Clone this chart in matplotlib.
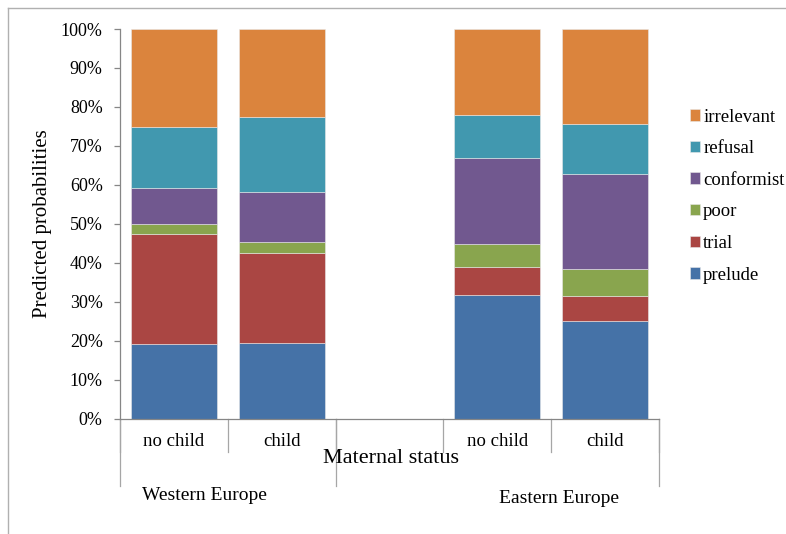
import numpy as np
import matplotlib
matplotlib.use("Agg")
import matplotlib.pyplot as plt
from matplotlib.lines import Line2D
from matplotlib.ticker import PercentFormatter

# values (percent)
maternal = ["no child", "child", "", "no child", "child"]
regions = ["Western Europe", "Eastern Europe"]
categories = ["prelude", "trial", "poor", "conformist", "refusal", "irrelevant"]
prelude = [19.2, 19.4, 0, 31.7, 25.1]
trial = [28.3, 23.2, 0, 7.3, 6.5]
poor = [2.5, 2.7, 0, 5.8, 6.9]
conformist = [9.1, 13.0, 0, 22.1, 24.4]
refusal = [15.7, 19.0, 0, 11.0, 12.7]
irrelevant = [25.2, 22.7, 0, 22.1, 24.4]
colors = ["#4572A7", "#AA4643", "#89A54E", "#71588F", "#4198AF", "#DB843D"]

plt.rcParams['font.family'] = ['Liberation Serif', 'DejaVu Serif']

fig = plt.figure(figsize=(7.86, 5.34), dpi=100)
W, H = 786, 534
ax = fig.add_axes([120 / W, 1 - 418.7 / H, 539 / W, 389.7 / H])

x = np.arange(len(maternal))
series = [prelude, trial, poor, conformist, refusal, irrelevant]
bottom = np.zeros(len(maternal))
handles = []
for name, vals, c in zip(categories, series, colors):
    v = np.array(vals) / 100
    b = ax.bar(x, v, 0.8, bottom=bottom, color=c, edgecolor="#e8e8e8", linewidth=0.4, label=name)
    bottom += v
    handles.append(b)

ax.set_xlim(-0.5, 4.5)
ax.set_ylim(0, 1)
ax.set_yticks(np.arange(0, 1.01, 0.1))
ax.yaxis.set_major_formatter(PercentFormatter(1.0, decimals=0))
ax.tick_params(axis='y', length=4.5, width=0.9, color='#868686', labelsize=13, pad=8)
ax.set_xticks([])
for s in ['top', 'right']:
    ax.spines[s].set_visible(False)
for s in ['left', 'bottom']:
    ax.spines[s].set_color('#868686')
    ax.spines[s].set_linewidth(0.9)

# multi-level category axis
tr = ax.get_xaxis_transform()
edges = np.arange(len(maternal) + 1) - 0.5
for e in edges:
    ax.plot([e, e], [0, -0.085], color='#a6a6a6', lw=0.9, transform=tr, clip_on=False)
for e in [edges[0], edges[2], edges[-1]]:
    ax.plot([e, e], [0, -0.172], color='#a6a6a6', lw=0.9, transform=tr, clip_on=False)
for xi, lab in zip(x, maternal):
    ax.text(xi, -0.059, lab, ha='center', va='center', fontsize=13.5, transform=tr)
ax.text(2.01, -0.103, "Maternal status", ha='center', va='center', fontsize=16, transform=tr)
ax.text(0.28, -0.197, regions[0], ha='center', va='center', fontsize=14, transform=tr)
ax.text(3.57, -0.206, regions[1], ha='center', va='center', fontsize=14, transform=tr)

fig.text(43 / W, 1 - 223.5 / H, "Predicted probabilities", rotation=90,
         ha='center', va='center', fontsize=15)

leg = fig.legend(handles[::-1], categories[::-1], loc='upper left',
                 bbox_to_anchor=(682.5 / W, 1 - 101 / H), frameon=False,
                 fontsize=13.5, handlelength=0.55, handleheight=0.55,
                 handletextpad=0.15, labelspacing=0.78, borderaxespad=0)

# outer chart frame (only top and left visible)
fig.add_artist(Line2D([8 / W, 1], [1 - 8 / H, 1 - 8 / H], color='#b0b0b0', lw=1))
fig.add_artist(Line2D([8 / W, 8 / W], [0, 1 - 8 / H], color='#b0b0b0', lw=1))

fig.savefig("out.png", dpi=100)
